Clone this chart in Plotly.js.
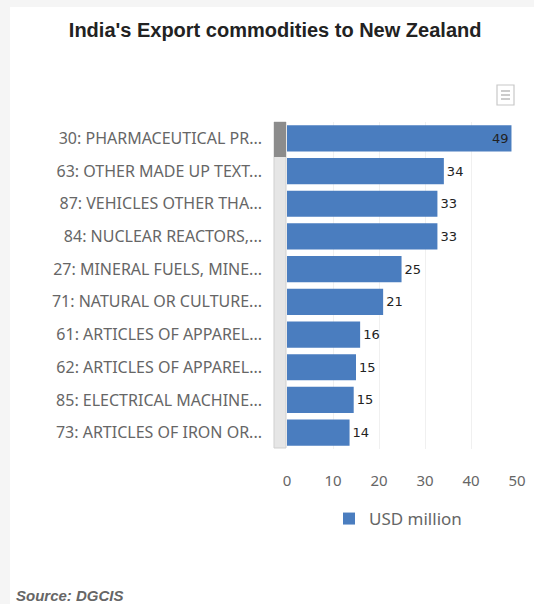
<!DOCTYPE html>
<html>
<head>
<meta charset="utf-8">
<script src="https://cdn.plot.ly/plotly-3.0.1.min.js"></script>
<style>
  html, body { margin: 0; padding: 0; background: #f5f5f5; width: 534px; height: 604px; overflow: hidden; }
  #chart { position: absolute; left: 10px; top: 7px; width: 524px; height: 597px; background: #fff; }
</style>
</head>
<body>
<div id="chart"></div>
<script>
const categories = [
  "30: PHARMACEUTICAL PR...",
  "63: OTHER MADE UP TEXT...",
  "87: VEHICLES OTHER THA...",
  "84: NUCLEAR REACTORS,...",
  "27: MINERAL FUELS, MINE...",
  "71: NATURAL OR CULTURE...",
  "61: ARTICLES OF APPAREL...",
  "62: ARTICLES OF APPAREL...",
  "85: ELECTRICAL MACHINE...",
  "73: ARTICLES OF IRON OR..."
];
const values = [48.8, 34.1, 32.7, 32.7, 24.9, 20.9, 15.9, 15.0, 14.5, 13.6];
const valueLabels = ["49", "34", "33", "33", "25", "21", "16", "15", "15", "14"];
const xTicks = [0, 10, 20, 30, 40, 50];
const seriesName = "USD million";

const textPositions = values.map(v => v > 45 ? "inside" : "outside");

const trace = {
  type: "bar",
  orientation: "h",
  y: categories,
  x: values,
  name: seriesName,
  text: valueLabels,
  textposition: textPositions,
  insidetextanchor: "end",
  cliponaxis: false,
  textfont: { family: "DejaVu Sans", size: 13, color: "#222" },
  insidetextfont: { family: "DejaVu Sans", size: 13, color: "#222" },
  outsidetextfont: { family: "DejaVu Sans", size: 13, color: "#222" },
  marker: { color: "#4a7dbf" },
  width: 0.8,
  hoverinfo: "none"
};

const W = 524, H = 597;
const L = 277, R = 17, T = 115, B = 155;
const pw = W - L - R, ph = H - T - B;
const px = x => (x - L) / pw;
const py = y => (H - B - y) / ph;

const layout = {
  width: W, height: H,
  margin: { l: L, r: R, t: T, b: B },
  paper_bgcolor: "#ffffff",
  plot_bgcolor: "#ffffff",
  bargap: 0.2,
  title: {
    text: "India's Export commodities to New Zealand",
    font: { family: "Liberation Sans, Arial", size: 20, color: "#222", weight: "bold" },
    x: 0.506, xref: "container", xanchor: "center",
    y: 1 - 23 / H, yref: "container", yanchor: "middle"
  },
  xaxis: {
    range: [0, 50],
    tickvals: xTicks,
    ticktext: xTicks.map(String),
    showgrid: true, gridcolor: "#f0f0f0", gridwidth: 1,
    zeroline: false, showline: false, ticks: "",
    ticklabelstandoff: 21,
    tickfont: { family: "Noto Sans", size: 15, color: "#666" },
    fixedrange: true
  },
  yaxis: {
    autorange: "reversed",
    showgrid: false, zeroline: false, showline: false, ticks: "",
    ticklabelstandoff: 24,
    tickfont: { family: "Noto Sans", size: 16, color: "#666" },
    fixedrange: true
  },
  showlegend: true,
  legend: {
    orientation: "h",
    x: px(388), xanchor: "center",
    y: py(512), yanchor: "middle",
    font: { family: "Noto Sans", size: 17, color: "#666" },
    itemwidth: 30
  },
  shapes: [
    { type: "rect", xref: "paper", yref: "paper", x0: px(264), x1: px(276), y0: py(441), y1: py(115),
      fillcolor: "#e6e6e6", line: { color: "#cfcfcf", width: 1 }, layer: "above" },
    { type: "rect", xref: "paper", yref: "paper", x0: px(264), x1: px(276), y0: py(150), y1: py(115),
      fillcolor: "#8c8c8c", line: { width: 0 }, layer: "above" },
    { type: "rect", xref: "paper", yref: "paper", x0: px(487), x1: px(504), y0: py(98), y1: py(78),
      fillcolor: "#ffffff", line: { color: "#c8c8c8", width: 1.2 }, layer: "above" },
    { type: "line", xref: "paper", yref: "paper", x0: px(491), x1: px(500), y0: py(84), y1: py(84),
      line: { color: "#999", width: 1 } },
    { type: "line", xref: "paper", yref: "paper", x0: px(491), x1: px(500), y0: py(88), y1: py(88),
      line: { color: "#999", width: 1 } },
    { type: "line", xref: "paper", yref: "paper", x0: px(491), x1: px(500), y0: py(92), y1: py(92),
      line: { color: "#999", width: 1 } }
  ],
  annotations: [
    { text: "<b><i>Source: DGCIS</i></b>", xref: "paper", yref: "paper",
      x: px(4), y: py(588), xanchor: "left", yanchor: "middle", showarrow: false,
      font: { family: "Liberation Sans, Arial", size: 15, color: "#666" } }
  ]
};

Plotly.newPlot("chart", [trace], layout, { displayModeBar: false, staticPlot: true });
</script>
</body>
</html>
